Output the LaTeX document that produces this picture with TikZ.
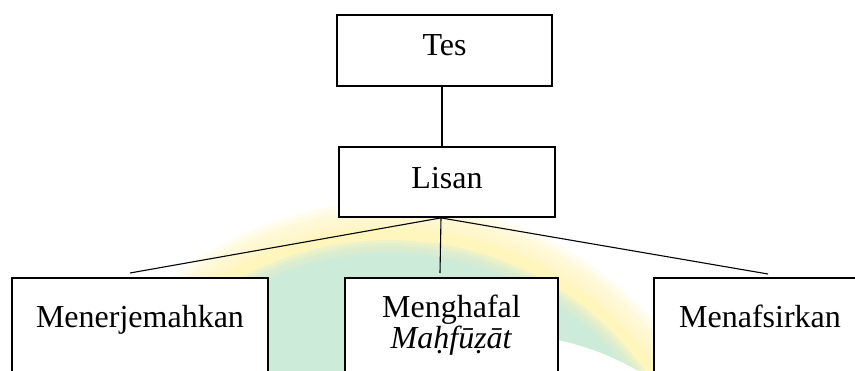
\documentclass[tikz,border=0pt]{standalone}
\usepackage{fontspec}
\setmainfont{Liberation Serif}
\definecolor{wmyellow}{RGB}{255,246,190}
\definecolor{wmgreen}{RGB}{204,235,217}
\begin{document}
\begin{tikzpicture}[x=1pt,y=-1pt,
  box/.style={draw=black, line width=1.8pt, fill=white, inner sep=0pt,
    font=\fontsize{32pt}{31pt}\selectfont},
  link/.style={draw=black, line width=1.1pt}]
\clip (0,0) rectangle (855,370);
\fill[white] (0,0) rectangle (855,370);

% faint emblem in the background
\foreach \r in {328,332,...,352}{\fill[wmyellow,opacity=0.22] (390,554) circle[radius=\r pt];}
\fill[wmyellow] (390,554) circle[radius=326pt];
\foreach \r in {302,305,...,314}{\fill[wmgreen,opacity=0.3] (390,554) circle[radius=\r pt];}
\fill[wmgreen] (390,554) circle[radius=300pt];
\fill[white] (500,610) circle[radius=276pt];

% boxes
\node[box, minimum width=215pt, minimum height=71pt, text height=22pt, text depth=13pt]
  (tes) at (444.5,50.5) {Tes};
\node[box, minimum width=216pt, minimum height=70pt, text height=22pt, text depth=10pt]
  (lisan) at (447,182) {Lisan};
\node[box, anchor=north, minimum width=256pt, text height=50pt, text depth=110pt]
  (m1) at (140,277) {Menerjemahkan};
\node[box, anchor=north, minimum width=213pt, align=center, text height=71pt, text depth=90pt]
  (m2) at (451.5,277) {Menghafal\\\textit{Maḥfūẓāt}};
\node[box, anchor=north, minimum width=212pt, text height=50pt, text depth=110pt]
  (m3) at (760,277) {Menafsirkan};

% connectors
\draw[link] ([xshift=-2.5pt]tes.south) -- ([xshift=-5pt]lisan.north);
\draw[link] ([xshift=-6pt]lisan.south) -- ([xshift=-10pt,yshift=4pt]m1.north);
\draw[link] ([xshift=-6pt]lisan.south) -- ([xshift=-11.5pt,yshift=4pt]m2.north);
\draw[link] ([xshift=-6pt]lisan.south) -- ([xshift=8pt,yshift=3pt]m3.north);
\end{tikzpicture}
\end{document}
